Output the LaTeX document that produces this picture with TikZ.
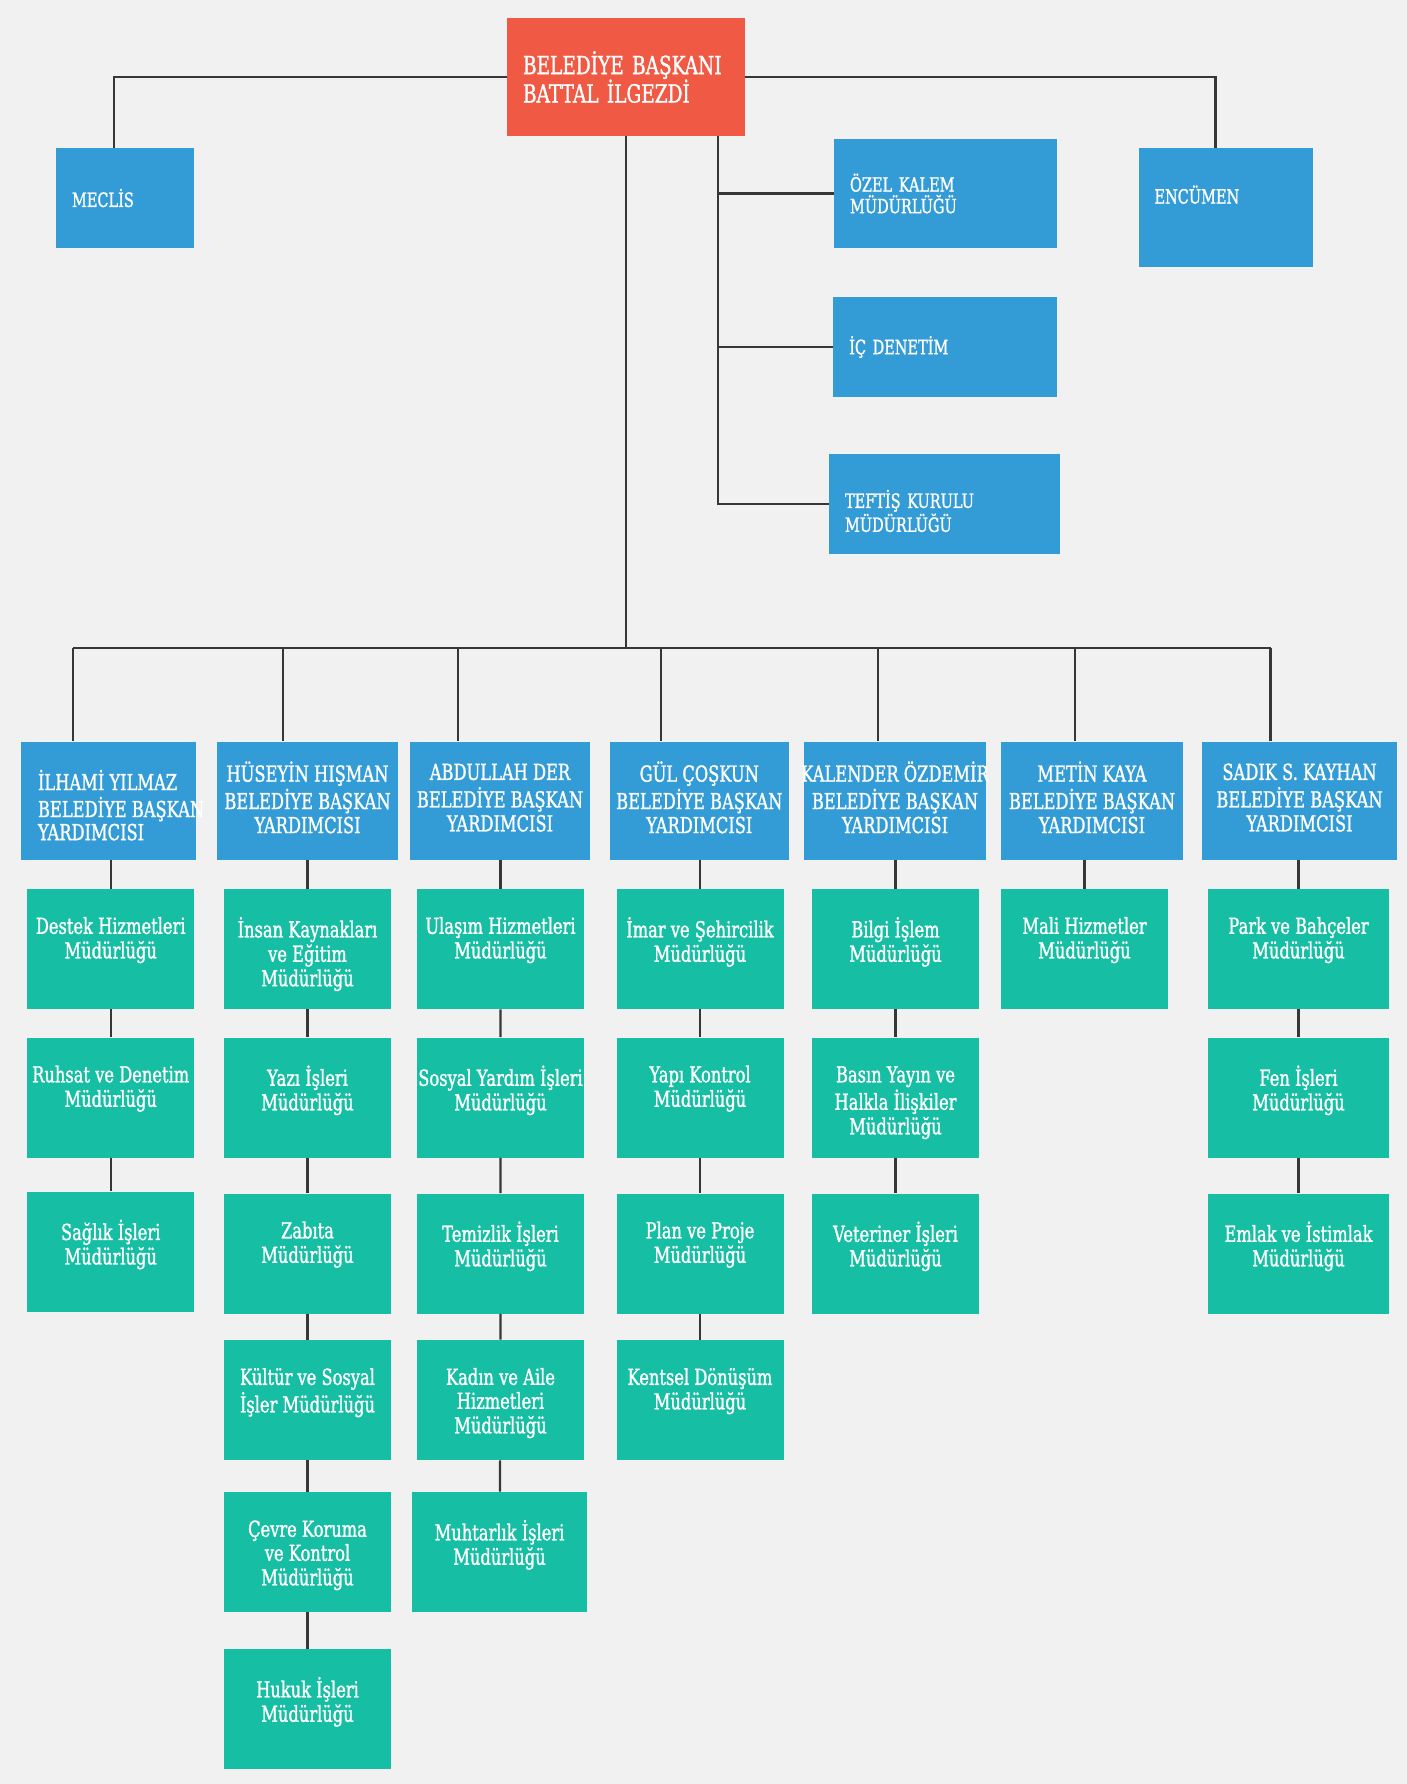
\documentclass[tikz,border=0pt]{standalone}
\usepackage{fontspec}
\setmainfont{DejaVu Serif}[FakeStretch=0.74, FakeBold=1.2]
\definecolor{mayorred}{RGB}{240,90,68}
\definecolor{unitblue}{RGB}{51,156,214}
\definecolor{deptgreen}{RGB}{22,190,163}
\definecolor{paper}{RGB}{241,241,241}
\definecolor{wire}{RGB}{55,55,55}
% centred stack of lines, no width of its own
\newcommand{\stack}[2][c]{\hbox to 0pt{\hss\begin{tabular}[#1]{@{}c@{}}#2\end{tabular}\hss}}
% department text sits in the upper part of the box
\newcommand{\depttext}[1]{\parbox[c][60pt][t]{0pt}{\vspace*{14pt}\stack[t]{#1}}}

\begin{document}
\begin{tikzpicture}[x=0.5pt, y=-0.5pt,
  wire/.style={draw=wire, line width=1.1pt},
  chief/.style={fill=mayorred, text=white, align=left, inner xsep=8pt, inner ysep=0pt,
    text width=103pt, minimum height=59pt, font=\fontsize{12.5}{14.2}\selectfont},
  side/.style={fill=unitblue, text=white, align=left, inner xsep=8pt, inner ysep=0pt,
    font=\fontsize{9.8}{10.8}\selectfont},
  deputy/.style={fill=unitblue, text=white, inner sep=0pt, minimum height=59.2pt,
    font=\fontsize{11}{12}\selectfont},
  dept/.style={fill=deptgreen, text=white, inner sep=0pt, minimum width=83.5pt,
    minimum height=60pt, font=\fontsize{11}{12}\selectfont}]

  % Background
  \fill[paper] (0,0) rectangle (1407,1784);

  % Mayor and the units next to him
  \node[chief] (mayor) at (626,77) {BELEDİYE BAŞKANI\\BATTAL İLGEZDİ};
  \node[side, text width=53pt, minimum height=50pt] (meclis) at (125,198) {MECLİS};
  \node[side, text width=71pt, minimum height=59.5pt] (encumen) at (1225.5,207.5) {ENCÜMEN\rule[-13pt]{0pt}{13pt}};
  \node[side, text width=95.5pt, minimum height=54.5pt] (ozel) at (945.5,193.5) {ÖZEL KALEM\\MÜDÜRLÜĞÜ};
  \node[side, text width=95.75pt, minimum height=50pt] (icdenetim) at (945,347) {İÇ DENETİM};
  \node[side, text width=99.5pt, minimum height=50pt] (teftis) at (944.5,504) {\rule{0pt}{16pt}TEFTİŞ KURULU\\MÜDÜRLÜĞÜ};

  % Lines to Meclis and Encumen
  \draw[wire] (mayor.west) -| ([xshift=-5.5pt]meclis.north);
  \draw[wire] (mayor.east) -| ([xshift=-5pt]encumen.north);

  % Lines to the staff units
  \coordinate (staff) at ([xshift=46pt]mayor.south);
  \draw[wire] (staff) |- (teftis.west);
  \draw[wire] (staff |- ozel.west) -- (ozel.west);
  \draw[wire] (staff |- icdenetim.west) -- (icdenetim.west);

  % Deputy mayors
  \node[deputy, minimum width=87.5pt] (vp1) at (108,800.8)
    {\hbox to 0pt{\hskip-35pt\raisebox{-6.5pt}[0pt][0pt]{\fontsize{11}{11.2}\selectfont\begin{tabular}{@{}l@{}}İLHAMİ YILMAZ\\BELEDİYE BAŞKAN\\YARDIMCISI\end{tabular}}\hss}};
  \node[deputy, minimum width=90.5pt] (vp2) at (307.5,800.8) {\stack{HÜSEYİN HIŞMAN\\BELEDİYE BAŞKAN\\YARDIMCISI}};
  \node[deputy, minimum width=90.25pt] (vp3) at (500,800.8) {\stack{ABDULLAH DER\\BELEDİYE BAŞKAN\\YARDIMCISI}};
  \node[deputy, minimum width=89.7pt] (vp4) at (699.3,800.8) {\stack{GÜL ÇOŞKUN\\BELEDİYE BAŞKAN\\YARDIMCISI}};
  \node[deputy, minimum width=91pt] (vp5) at (895,800.8) {\stack{KALENDER ÖZDEMİR\\BELEDİYE BAŞKAN\\YARDIMCISI}};
  \node[deputy, minimum width=91pt] (vp6) at (1092,800.8) {\stack{METİN KAYA\\BELEDİYE BAŞKAN\\YARDIMCISI}};
  \node[deputy, minimum width=97.5pt] (vp7) at (1299.5,800.8) {\stack{SADIK S. KAYHAN\\BELEDİYE BAŞKAN\\YARDIMCISI}};

  % Bus from the mayor to the deputies
  \coordinate (t1) at (73,648);
  \coordinate (t2) at (283,648);
  \coordinate (t3) at (458,648);
  \coordinate (t4) at (661,648);
  \coordinate (t5) at (878,648);
  \coordinate (t6) at (1075,648);
  \coordinate (t7) at (1270.5,648);
  \draw[wire] (mayor.south) -- (mayor.south |- t1);
  \draw[wire] (t1) -- (t7);
  \foreach \i in {1,...,7}
    \draw[wire] (t\i) -- (t\i |- vp\i.north);

  % Column 1
  \node[dept] (d11) at (110.7,949) {\depttext{Destek Hizmetleri\\Müdürlüğü}};
  \node[dept] (d12) at (110.7,1097.5) {\depttext{Ruhsat ve Denetim\\Müdürlüğü}};
  \node[dept] (d13) at (110.7,1251.7) {\depttext{Sağlık İşleri\\Müdürlüğü}};

  % Column 2
  \node[dept] (d21) at (307.5,949) {\depttext{İnsan Kaynakları\\ve Eğitim\\Müdürlüğü}};
  \node[dept] (d22) at (307.5,1097.5) {\depttext{Yazı İşleri\\Müdürlüğü}};
  \node[dept] (d23) at (307.5,1253.5) {\depttext{Zabıta\\Müdürlüğü}};
  \node[dept] (d24) at (307.5,1400) {\depttext{Kültür ve Sosyal\\İşler Müdürlüğü}};
  \node[dept] (d25) at (307.5,1552) {\depttext{Çevre Koruma\\ve Kontrol\\Müdürlüğü}};
  \node[dept] (d26) at (307.5,1709) {\depttext{Hukuk İşleri\\Müdürlüğü}};

  % Column 3
  \node[dept] (d31) at (500.5,949) {\depttext{Ulaşım Hizmetleri\\Müdürlüğü}};
  \node[dept] (d32) at (500.5,1097.5) {\depttext{Sosyal Yardım İşleri\\Müdürlüğü}};
  \node[dept] (d33) at (500.5,1253.5) {\depttext{Temizlik İşleri\\Müdürlüğü}};
  \node[dept] (d34) at (500.5,1400) {\depttext{Kadın ve Aile\\Hizmetleri\\Müdürlüğü}};
  \node[dept, minimum width=87.5pt] (d35) at (499.5,1552) {\depttext{Muhtarlık İşleri\\Müdürlüğü}};

  % Column 4
  \node[dept] (d41) at (700,949) {\depttext{İmar ve Şehircilik\\Müdürlüğü}};
  \node[dept] (d42) at (700,1097.5) {\depttext{Yapı Kontrol\\Müdürlüğü}};
  \node[dept] (d43) at (700,1253.5) {\depttext{Plan ve Proje\\Müdürlüğü}};
  \node[dept] (d44) at (700,1400) {\depttext{Kentsel Dönüşüm\\Müdürlüğü}};

  % Column 5
  \node[dept] (d51) at (895.5,949) {\depttext{Bilgi İşlem\\Müdürlüğü}};
  \node[dept] (d52) at (895.5,1097.5) {\depttext{Basın Yayın ve\\Halkla İlişkiler\\Müdürlüğü}};
  \node[dept] (d53) at (895.5,1253.5) {\depttext{Veteriner İşleri\\Müdürlüğü}};

  % Column 6
  \node[dept] (d61) at (1084.5,949) {\depttext{Mali Hizmetler\\Müdürlüğü}};

  % Column 7
  \node[dept, minimum width=90.5pt] (d71) at (1298.5,949) {\depttext{Park ve Bahçeler\\Müdürlüğü}};
  \node[dept, minimum width=90.5pt] (d72) at (1298.5,1097.5) {\depttext{Fen İşleri\\Müdürlüğü}};
  \node[dept, minimum width=90.5pt] (d73) at (1298.5,1253.5) {\depttext{Emlak ve İstimlak\\Müdürlüğü}};

  % Lines from the deputies down the columns
  \draw[wire] (d11 |- vp1.south) -- (d11.north);
  \draw[wire] (d21 |- vp2.south) -- (d21.north);
  \draw[wire] (d31 |- vp3.south) -- (d31.north);
  \draw[wire] (d41 |- vp4.south) -- (d41.north);
  \draw[wire] (d51 |- vp5.south) -- (d51.north);
  \draw[wire] (d61 |- vp6.south) -- (d61.north);
  \draw[wire] (d71 |- vp7.south) -- (d71.north);
  \draw[wire] (d11) -- (d12) (d12) -- (d13);
  \draw[wire] (d21) -- (d22) (d22) -- (d23) (d23) -- (d24) (d24) -- (d25) (d25) -- (d26);
  \draw[wire] (d31) -- (d32) (d32) -- (d33) (d33) -- (d34) (d34) -- (d35);
  \draw[wire] (d41) -- (d42) (d42) -- (d43) (d43) -- (d44);
  \draw[wire] (d51) -- (d52) (d52) -- (d53);
  \draw[wire] (d71) -- (d72) (d72) -- (d73);
\end{tikzpicture}
\end{document}
